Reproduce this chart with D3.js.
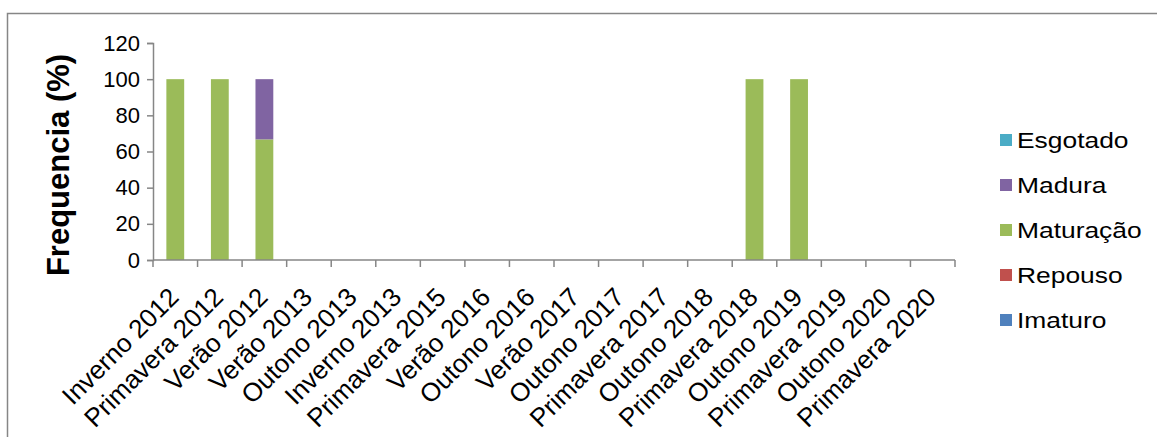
<!DOCTYPE html>
<html>
<head>
<meta charset="utf-8">
<title>Frequencia</title>
<script src="https://d3js.org/d3.v7.min.js"></script>
<style>
  body { margin: 0; background: #fff; font-family: Arial, "Liberation Sans", sans-serif; }
  .axis path, .axis line { stroke: #868686; stroke-width: 1.5; fill: none; }
  .axis text { fill: #000; }
</style>
</head>
<body>
<svg width="1157" height="437"></svg>
<script>
var categories = ["Inverno 2012", "Primavera 2012", "Verão 2012", "Verão 2013", "Outono 2013",
  "Inverno 2013", "Primavera 2015", "Verão 2016", "Outono 2016", "Verão 2017", "Outono 2017",
  "Primavera 2017", "Outono 2018", "Primavera 2018", "Outono 2019", "Primavera 2019",
  "Outono 2020", "Primavera 2020"];

// stacking order bottom -> top
var seriesNames = ["Imaturo", "Repouso", "Maturação", "Madura", "Esgotado"];
var seriesColors = ["#4F81BD", "#C0504D", "#9BBB59", "#8064A2", "#4BACC6"];

var imaturo   = [0, 0, 0, 0, 0, 0, 0, 0, 0, 0, 0, 0, 0, 0, 0, 0, 0, 0];
var repouso   = [0, 0, 0, 0, 0, 0, 0, 0, 0, 0, 0, 0, 0, 0, 0, 0, 0, 0];
var maturacao = [100, 100, 66.7, 0, 0, 0, 0, 0, 0, 0, 0, 0, 0, 100, 100, 0, 0, 0];
var madura    = [0, 0, 33.3, 0, 0, 0, 0, 0, 0, 0, 0, 0, 0, 0, 0, 0, 0, 0];
var esgotado  = [0, 0, 0, 0, 0, 0, 0, 0, 0, 0, 0, 0, 0, 0, 0, 0, 0, 0];

var yTicks = [0, 20, 40, 60, 80, 100, 120];
var yLabel = "Frequencia (%)";

var seriesValues = [imaturo, repouso, maturacao, madura, esgotado];
var table = categories.map(function(c, i) {
  var row = {cat: c};
  seriesNames.forEach(function(s, j) { row[s] = seriesValues[j][i]; });
  return row;
});

var svg = d3.select("svg");
var font = "Arial, 'Liberation Sans', sans-serif";

// outer chart border (cropped at right/bottom)
svg.append("rect")
  .attr("x", 7.5).attr("y", 13.5)
  .attr("width", 1200).attr("height", 500)
  .attr("fill", "none").attr("stroke", "#868686").attr("stroke-width", 1.5);

var x = d3.scaleBand().domain(categories).range([153, 955]).paddingInner(0).paddingOuter(0);
var y = d3.scaleLinear().domain([0, 120]).range([260, 43]);
var color = d3.scaleOrdinal().domain(seriesNames).range(seriesColors);

var stack = d3.stack().keys(seriesNames)(table);
var barW = x.bandwidth() * 0.4;

svg.append("g").selectAll("g")
  .data(stack)
  .enter().append("g")
  .attr("fill", function(d) { return color(d.key); })
  .selectAll("rect")
  .data(function(d) { return d; })
  .enter().append("rect")
  .attr("x", function(d) { return x(d.data.cat) + (x.bandwidth() - barW) / 2; })
  .attr("y", function(d) { return y(d[1]); })
  .attr("width", barW)
  .attr("height", function(d) { return y(d[0]) - y(d[1]); });

// y axis
var yAxis = svg.append("g")
  .attr("class", "axis")
  .attr("transform", "translate(153,0)")
  .call(d3.axisLeft(y).tickValues(yTicks).tickSize(6).tickSizeOuter(6).tickPadding(7));
yAxis.selectAll("text").attr("font-size", 22).attr("font-family", font);

// x axis: ticks on band boundaries
var xAxis = svg.append("g")
  .attr("class", "axis")
  .attr("transform", "translate(0,260)");
xAxis.append("line")
  .attr("x1", 153).attr("x2", 955).attr("y1", 0).attr("y2", 0);
xAxis.selectAll(".tk")
  .data(categories.concat(["end"]))
  .enter().append("line")
  .attr("class", "tk")
  .attr("x1", function(d, i) { return i < categories.length ? x(d) : x.range()[1]; })
  .attr("x2", function(d, i) { return i < categories.length ? x(d) : x.range()[1]; })
  .attr("y1", 0).attr("y2", 7);
xAxis.selectAll(".lbl")
  .data(categories)
  .enter().append("text")
  .attr("class", "lbl")
  .attr("font-size", 26)
  .attr("font-family", font)
  .attr("text-anchor", "end")
  .attr("transform", function(d) {
    return "translate(" + (x(d) + x.bandwidth() / 2 - 8) + ",26) rotate(-45)";
  })
  .attr("dy", "0.7em")
  .text(function(d) { return d; });

// y label
svg.append("text")
  .attr("transform", "translate(69,165) rotate(-90)")
  .attr("text-anchor", "middle")
  .attr("font-size", 31)
  .attr("font-weight", "bold")
  .attr("font-family", font)
  .text(yLabel);

// legend: top-down reversed order
var legendNames = seriesNames.slice().reverse();
var legend = svg.append("g").selectAll("g")
  .data(legendNames)
  .enter().append("g")
  .attr("transform", function(d, i) { return "translate(1000," + (140 + i * 45) + ")"; });
legend.append("rect")
  .attr("x", 0).attr("y", -6)
  .attr("width", 12).attr("height", 12)
  .attr("fill", function(d) { return color(d); });
legend.append("text")
  .attr("transform", "translate(17,0) scale(1.2,1)")
  .attr("dy", "0.35em")
  .attr("font-size", 22)
  .attr("font-family", font)
  .text(function(d) { return d; });
</script>
</body>
</html>
